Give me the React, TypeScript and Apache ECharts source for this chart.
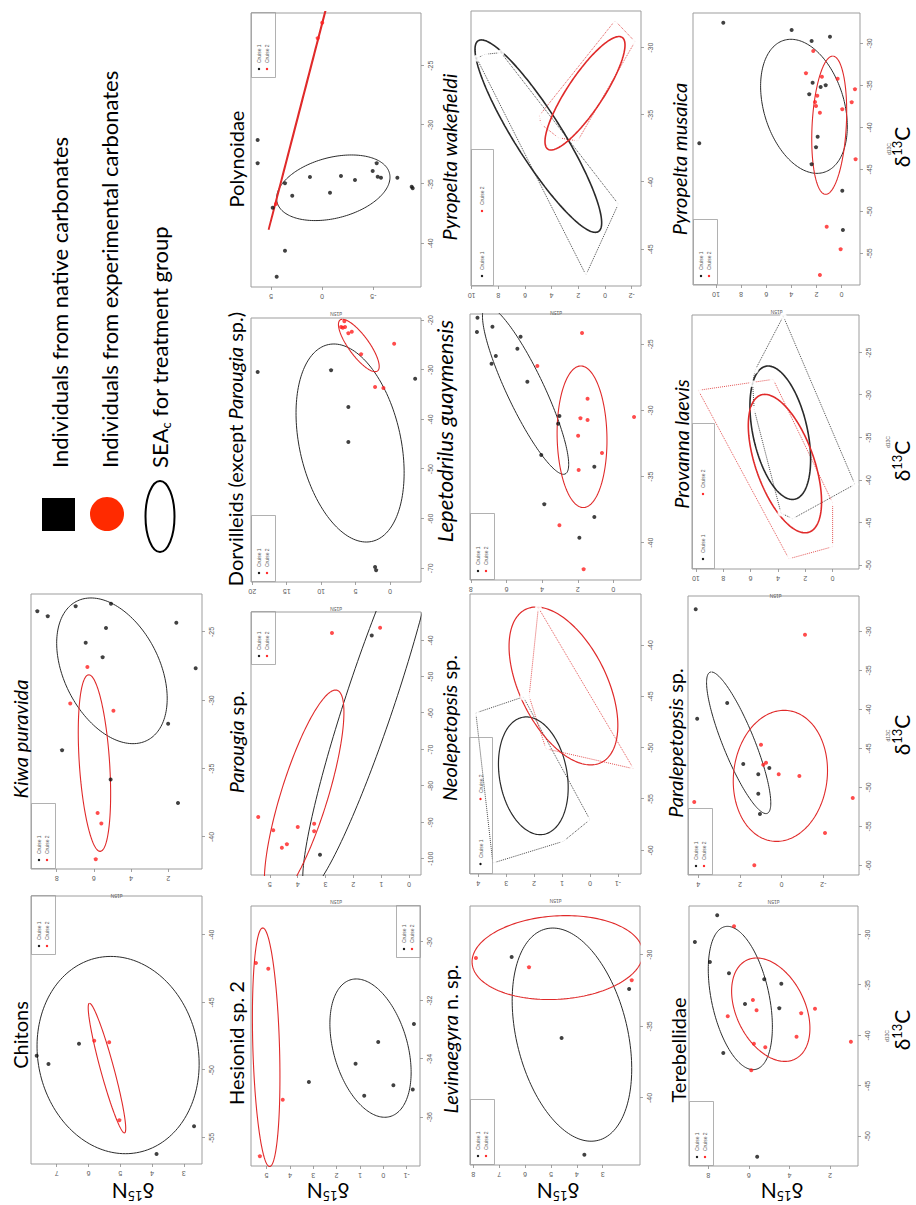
import React, { useEffect, useRef } from "react";
import * as echarts from "echarts";

type Pt = [number, number];

// SEA ellipse parameters: [centre d13C, centre d15N, half-range d13C, half-range d15N, correlation]

// ---------- Chitons ----------
const chitonsXT = [-55, -50, -45, -40];
const chitonsYT = [3, 4, 5, 6, 7];
const chitonsC1: Pt[] = [[-48.93, 7.63], [-49.54, 7.26], [-48.04, 6.3], [-54.14, 2.68], [-56.18, 3.86]];
const chitonsC2: Pt[] = [[-47.82, 5.82], [-47.94, 5.35], [-53.7, 5.03]];
const chitonsSea1 = [-48.88, 5.07, 7.28, 2.55, 0.09];
const chitonsSea2 = [-49.84, 5.42, 4.79, 0.59, 0.93];

// ---------- Kiwa puravida ----------
const kiwaXT = [-40, -35, -30, -25];
const kiwaYT = [2, 4, 6, 8];
const kiwaC1: Pt[] = [[-23.49, 9.04], [-23.85, 8.48], [-23.12, 6.98], [-22.93, 5.08], [-24.71, 5.35], [-25.78, 6.44], [-26.85, 5.53], [-24.32, 1.57], [-27.66, 0.53], [-31.71, 2.01], [-33.66, 7.71], [-35.8, 5.1], [-37.51, 1.48]];
const kiwaC2: Pt[] = [[-27.56, 6.35], [-30.24, 7.27], [-30.76, 4.95], [-38.24, 5.8], [-39.02, 5.6], [-41.63, 5.9]];
const kiwaSea1 = [-27.84, 5.03, 5.33, 2.97, 0.38];
const kiwaSea2 = [-34.59, 5.97, 6.46, 0.87, 0.35];

// ---------- Hesionid sp. 2 ----------
const hesXT = [-36, -34, -32, -30];
const hesYT = [-1, 0, 1, 2, 3, 4, 5];
const hesC1: Pt[] = [[-34.79, 3.19], [-34.17, 1.19], [-33.42, 0.22], [-35.26, 0.82], [-34.9, -0.43], [-32.8, -1.31], [-35.05, -1.26]];
const hesC2: Pt[] = [[-30.71, 5.46], [-30.91, 4.93], [-35.4, 4.31], [-37.34, 5.29]];
const hesSea1 = [-33.63, 0.55, 2.37, 1.74, 0.35];
const hesSea2 = [-33.6, 5.02, 4.09, 0.59, 0.25];

// ---------- Parougia sp. ----------
const parXT = [-100, -90, -80, -70, -60, -50, -40];
const parYT = [0, 1, 2, 3, 4, 5];
const parC1: Pt[] = [[-38.63, 1.34], [-98.9, 3.2]];
const parC2: Pt[] = [[-88.54, 5.42], [-92.2, 4.88], [-96.98, 4.57], [-96.04, 4.39], [-91.29, 4.0], [-37.99, 2.77], [-36.54, 1.04], [-90.38, 3.41], [-92.47, 3.41]];
const parSea1 = [-55.2, 1.34, 53.9, 2.48, -0.928];
const parSea2 = [-82.85, 3.77, 29.2, 1.43, -0.79];

// ---------- Dorvilleids ----------
const dorXT = [-70, -60, -50, -40, -30, -20];
const dorYT = [0, 5, 10, 15, 20];
const dorC1: Pt[] = [[-30.08, 8.56], [-37.48, 6.05], [-44.54, 6.05], [-31.77, -3.65], [-69.74, 2.17], [-70.4, 2.02], [-30.42, 19.22]];
const dorC2: Pt[] = [[-20.2, 6.63], [-21.35, 7.11], [-21.49, 6.86], [-21.35, 6.53], [-22.62, 6.05], [-22.3, 5.55], [-26.85, 4.2], [-24.72, -0.6], [-33.45, 2.17], [-33.65, 0.96]];
const dorSea1 = [-44.74, 5.8, 19.96, 7.85, 0.3];
const dorSea2 = [-25.08, 4.53, 5.28, 2.96, 0.8];

// ---------- Polynoidae ----------
const polXT = [-40, -35, -30, -25];
const polYT = [-5, 0, 5];
const polC1: Pt[] = [[-31.28, 6.3], [-33.24, 6.3], [-34.93, 3.63], [-35.98, 2.92], [-36.99, 4.83], [-40.62, 3.63], [-42.82, 4.44], [-34.4, 1.19], [-35.73, -0.77], [-34.32, -1.84], [-34.65, -3.21], [-33.89, -4.94], [-33.24, -5.33], [-34.37, -5.43], [-34.46, -5.75], [-34.46, -7.35], [-35.22, -8.75], [-35.35, -8.85]];
const polC2: Pt[] = [[-36.68, 4.51], [-22.69, 0.43], [-21.37, -0.01]];
const polSea1 = [-35.31, -1.09, 2.77, 5.54, -0.32];
const polSea2 = [-26.9, 1.64, 11.98, 3.6, -0.99999];

// ---------- Levinaegyra n. sp. ----------
const levXT = [-40, -35, -30];
const levYT = [3, 4, 5, 6, 7, 8];
const levC1: Pt[] = [[-30.16, 6.52], [-35.81, 4.59], [-43.96, 3.71], [-32.39, 1.98]];
const levC2: Pt[] = [[-30.23, 7.9], [-30.88, 5.85], [-31.79, 1.88]];
const levSea1 = [-35.58, 4.19, 7.44, 2.31, 0.32];
const levSea2 = [-30.2, 4.75, 2.93, 3.3, -0.1];

// ---------- Neolepetopsis sp. ----------
const neoXT = [-60, -55, -50, -45, -40];
const neoYT = [-1, 0, 1, 2, 3, 4];
const neoC1: Pt[] = [[-46.6, 4.09], [-50.67, 3.01], [-50.48, 1.89], [-50.8, 1.79], [-53.34, 1.04], [-57.89, 1.97], [-57.01, 0.0], [-59.12, 0.95], [-61.24, 3.48], [-45.04, 2.39]];
const neoC2: Pt[] = [[-36.33, 1.85], [-38.77, 1.69], [-44.98, 2.18], [-50.09, 1.58], [-52.04, -1.56]];
const neoHull1 = [0, 9, 6, 7, 8, 0];
const neoHull2 = [0, 2, 3, 4, 0];
const neoSea1 = [-52.73, 2.03, 5.74, 1.25, 0.2];
const neoSea2 = [-43.97, 0.95, 7.7, 1.95, 0.5];

// ---------- Lepetodrilus guaymensis ----------
const lepXT = [-40, -35, -30, -25];
const lepYT = [0, 2, 4, 6, 8];
const lepC1: Pt[] = [[-22.99, 7.63], [-24.07, 7.66], [-23.67, 6.79], [-24.43, 5.21], [-25.33, 5.39], [-25.88, 6.6], [-26.47, 6.84], [-27.83, 4.83], [-30.42, 3.03], [-31.0, 3.1], [-33.37, 4.05], [-34.25, 1.07], [-37.09, 3.88], [-38.05, 1.07], [-39.62, 1.91]];
const lepC2: Pt[] = [[-24.15, 1.76], [-26.64, 4.27], [-29.11, 1.45], [-30.59, 1.85], [-30.72, 1.45], [-31.91, 1.98], [-33.22, 0.64], [-34.5, 1.95], [-38.68, 3.03], [-42.01, 1.67], [-30.5, -1.16]];
const lepSea1 = [-28.47, 4.93, 6.36, 2.42, 0.88];
const lepSea2 = [-31.99, 1.76, 5.35, 1.4, 0.05];

// ---------- Pyropelta wakefieldi ----------
const pwaXT = [-45, -40, -35, -30];
const pwaYT = [-2, 0, 2, 4, 6, 8, 10];
const pwaC1: Pt[] = [[-30.79, 9.62], [-30.49, 9.0], [-30.37, 7.8], [-41.63, -1.0], [-46.91, 1.43], [-41.58, 1.63]];
const pwaC2: Pt[] = [[-35.06, 4.93], [-35.68, 4.8], [-36.7, 3.5], [-36.94, 2.05], [-34.21, 1.13], [-27.99, -0.75], [-29.55, -2.25]];
const pwaHull1 = [0, 1, 2, 3, 4, 0];
const pwaHull2 = [0, 5, 6, 3, 2, 1, 0];
const pwaSea1 = [-36.58, 5.0, 7.16, 4.75, 0.9];
const pwaSea2 = [-33.39, 1.5, 4.22, 3.0, -0.85];

// ---------- Terebellidae ----------
const terXT = [-50, -45, -40, -35, -30];
const terYT = [2, 4, 6, 8];
const terC1: Pt[] = [[-28.08, 7.56], [-30.72, 8.66], [-32.71, 7.92], [-33.83, 6.98], [-34.42, 5.24], [-34.86, 4.4], [-36.88, 6.19], [-37.3, 4.5], [-41.74, 7.26], [-52.02, 5.59]];
const terC2: Pt[] = [[-29.17, 6.73], [-36.48, 5.8], [-37.5, 5.62], [-38.1, 7.04], [-37.8, 3.42], [-37.34, 2.74], [-40.12, 3.65], [-40.81, 5.75], [-41.17, 5.19], [-43.45, 5.88], [-40.62, 0.97]];
const terSea1 = [-36.28, 6.42, 7.11, 1.58, 0.4];
const terSea2 = [-37.44, 4.92, 5.13, 1.93, 0.36];

// ---------- Paralepetopsis sp. ----------
const palXT = [-60, -55, -50, -45, -40, -35, -30];
const palYT = [-2, 0, 2, 4];
const palC1: Pt[] = [[-27.18, 4.12], [-41.21, 4.05], [-39.19, 2.61], [-47.01, 1.84], [-47.53, 0.59], [-48.33, 1.12], [-50.82, 1.12], [-53.42, 1.04]];
const palC2: Pt[] = [[-30.44, -1.12], [-44.54, 0.99], [-47.1, 0.88], [-46.85, 0.75], [-48.33, 0.14], [-48.55, -0.85], [-51.88, 4.19], [-51.37, -3.41], [-55.86, -2.08], [-60.0, 1.31]];
const palSea1 = [-44.29, 2.06, 9.08, 1.54, 0.85];
const palSea2 = [-48.53, 0.06, 8.4, 2.26, -0.08];

// ---------- Provanna laevis ----------
const proXT = [-50, -45, -40, -35, -30, -25];
const proYT = [-2, 0, 2, 4, 6, 8, 10];
const proC1: Pt[] = [[-20.7, 3.61], [-27.07, 5.68], [-28.65, 5.85], [-31.66, 5.74], [-31.74, 4.64], [-29.31, 2.15], [-36.65, 4.1], [-40.88, 3.86], [-40.21, 2.39], [-43.86, 3.78], [-44.53, 2.93], [-40.48, -1.63]];
const proC2: Pt[] = [[-29.42, 9.83], [-28.13, 4.35], [-29.31, 4.64], [-29.51, 4.46], [-32.56, 3.78], [-35.54, 3.49], [-40.6, 5.56], [-44.01, 1.71], [-42.65, 0.0], [-47.82, 0.0], [-46.18, 0.4], [-47.04, 0.8], [-49.24, 3.2]];
const proHull1 = [0, 1, 2, 3, 9, 10, 11, 0];
const proHull2 = [0, 1, 8, 9, 12, 0];
const proSea1 = [-34.41, 3.83, 7.85, 2.22, 0.4];
const proSea2 = [-38.04, 3.49, 8.14, 2.68, 0.55];

// ---------- Pyropelta musaica ----------
const pmuXT = [-55, -50, -45, -40, -35, -30];
const pmuYT = [0, 2, 4, 6, 8, 10];
const pmuC1: Pt[] = [[-27.55, 9.42], [-28.42, 3.98], [-29.73, 2.39], [-29.21, 0.93], [-34.69, 2.31], [-36.07, 2.58], [-35.2, 1.67], [-35.0, 1.27], [-41.12, 1.91], [-42.38, 2.04], [-41.9, 11.33], [-44.4, 2.39], [-47.55, -0.05], [-52.23, -0.1]];
const pmuC2: Pt[] = [[-30.92, 2.26], [-33.57, 2.84], [-33.98, 1.57], [-34.21, 0.32], [-35.48, -1.06], [-36.99, 2.12], [-37.46, 2.04], [-36.24, 1.94], [-37.02, -0.8], [-37.86, -0.05], [-38.26, 1.73], [-43.81, -1.11], [-51.83, 1.19], [-54.52, 0.08], [-57.58, 1.73]];
const pmuSea1 = [-37.5, 3.0, 7.98, 3.45, 0.3];
const pmuSea2 = [-39.75, 0.99, 8.23, 1.39, -0.2];

// Figure texts
const legendLines = ["Individuals from native carbonates", "Individuals from experimental carbonates"];
const cruiseNames = ["Cruise 1", "Cruise 2"];

// ---------- layout (landscape figure, 1205 x 916) ----------
interface Panel {
  title: string;
  tx: number;
  ty: number;
  tfs?: number;
  box: number[];
  xr: number[];
  yr: number[];
  xt: number[];
  yt: number[];
  c1: Pt[];
  c2: Pt[];
  e1: number[];
  e2: number[];
  h1?: number[];
  h2?: number[];
  open?: boolean;
  ew?: number;
  e2w?: number;
  xname?: boolean;
  yname?: boolean;
  leg: number[];
}

const panels: Panel[] = [
  { title: "{n|Chitons}", tx: 170, ty: 27, box: [41, 31, 268, 171], xr: [-56.92, -37.14], yr: [2.43, 7.81], xt: chitonsXT, yt: chitonsYT, c1: chitonsC1, c2: chitonsC2, e1: chitonsSea1, e2: chitonsSea2, leg: [250, 31, 59, 24, 0] },
  { title: "{i|Kiwa puravida}", tx: 466, ty: 27, box: [336, 31, 275, 171], xr: [-42.34, -22.22], yr: [0.19, 9.38], xt: kiwaXT, yt: kiwaYT, c1: kiwaC1, c2: kiwaC2, e1: kiwaSea1, e2: kiwaSea2, yname: true, leg: [336, 31, 65, 24, 0] },
  { title: "{n|Hesionid sp. 2}", tx: 162, ty: 243, box: [39, 251, 260, 169], xr: [-37.67, -28.76], yr: [-1.57, 5.67], xt: hesXT, yt: hesYT, c1: hesC1, c2: hesC2, e1: hesSea1, e2: hesSea2, leg: [247, 396, 52, 24, 0] },
  { title: "{i|Parougia}{n| sp.}", tx: 463, ty: 243, box: [330, 251, 263, 170], xr: [-104.48, -32.2], yr: [-0.43, 5.68], xt: parXT, yt: parYT, c1: parC1, c2: parC2, e1: parSea1, e2: parSea2, yname: true, leg: [540, 251, 53, 24, 0] },
  { title: "{n|Dorvilleids (except }{i|Parougia}{n| sp.)}", tx: 756, ty: 242, box: [623, 251, 264, 170], xr: [-72.76, -19.54], yr: [-4.5, 20.19], xt: dorXT, yt: dorYT, c1: dorC1, c2: dorC2, e1: dorSea1, e2: dorSea2, yname: true, leg: [623, 251, 66, 24, 0] },
  { title: "{n|Polynoidae}", tx: 1046, ty: 243, box: [918, 251, 274, 170], xr: [-43.69, -20.55], yr: [-9.66, 6.95], xt: polXT, yt: polYT, c1: polC1, c2: polC2, e1: polSea1, e2: polSea2, e2w: 1.8, yname: true, leg: [1127, 251, 65, 24, 0] },
  { title: "{i|Levinaegyra}{n| n. sp.}", tx: 166, ty: 457, box: [40, 470, 259, 170], xr: [-44.68, -26.6], yr: [1.56, 8.13], xt: levXT, yt: levYT, c1: levC1, c2: levC2, e1: levSea1, e2: levSea2, leg: [40, 470, 65, 24, 0] },
  { title: "{i|Neolepetopsis}{n| sp.}", tx: 477, ty: 456, box: [331, 470, 280, 171], xr: [-62.31, -35.0], yr: [-1.83, 4.3], xt: neoXT, yt: neoYT, c1: neoC1, c2: neoC2, e1: neoSea1, e2: neoSea2, h1: neoHull1, h2: neoHull2, open: true, ew: 1.2, yname: true, leg: [331, 469, 136, 23, 1] },
  { title: "{i|Lepetodrilus guaymensis}", tx: 774, ty: 452, tfs: 22, box: [625, 470, 266, 171], xr: [-42.82, -22.71], yr: [-1.55, 8.05], xt: lepXT, yt: lepYT, c1: lepC1, c2: lepC2, e1: lepSea1, e2: lepSea2, leg: [625, 470, 66, 24, 0] },
  { title: "{i|Pyropelta wakefieldi}", tx: 1048, ty: 456, box: [919, 471, 275, 170], xr: [-47.73, -27.27], yr: [-2.7, 10.05], xt: pwaXT, yt: pwaYT, c1: pwaC1, c2: pwaC2, e1: pwaSea1, e2: pwaSea2, h1: pwaHull1, h2: pwaHull2, open: true, ew: 1.6, yname: true, leg: [919, 471, 136, 22, 1] },
  { title: "{n|Terebellidae}", tx: 155, ty: 685, box: [39, 689, 260, 169], xr: [-52.95, -27.15], yr: [0.62, 8.95], xt: terXT, yt: terYT, c1: terC1, c2: terC2, e1: terSea1, e2: terSea2, xname: true, leg: [39, 689, 64, 24, 0] },
  { title: "{i|Paralepetopsis}{n| sp.}", tx: 462, ty: 682, box: [330, 688, 279, 171], xr: [-61.24, -25.47], yr: [-3.71, 4.49], xt: palXT, yt: palYT, c1: palC1, c2: palC2, e1: palSea1, e2: palSea2, xname: true, yname: true, leg: [330, 688, 66, 24, 0] },
  { title: "{i|Provanna laevis}", tx: 761, ty: 688, box: [636, 692, 254, 167], xr: [-50.44, -20.56], yr: [-1.93, 10.29], xt: proXT, yt: proYT, c1: proC1, c2: proC2, e1: proSea1, e2: proSea2, h1: proHull1, h2: proHull2, open: true, ew: 1.6, xname: true, yname: true, leg: [636, 692, 145, 22, 1] },
  { title: "{i|Pyropelta musaica}", tx: 1046, ty: 686, box: [920, 693, 272, 167], xr: [-58.77, -26.39], yr: [-1.46, 11.83], xt: pmuXT, yt: pmuYT, c1: pmuC1, c2: pmuC2, e1: pmuSea1, e2: pmuSea2, xname: true, yname: true, leg: [920, 693, 65, 24, 0] },
];

const d15NLabelY = [133, 328, 558, 782];
const d13CLabelX = [175, 470, 744, 1058];

const BOX = "#9d9d9d";
const TICK = "#8c8c8c";
const LAB = "#5c5c5c";
const BLACK = "#111111";
const RED = "#ff1f1f";
const TITLE_FONT = "Lato, 'Open Sans', sans-serif";
const AXIS_FONT = "'Liberation Sans', Arial, sans-serif";

function ellipsePoints(e: number[]): Pt[] {
  const [cx, cy, rx, ry, rho] = e;
  const s = Math.sqrt(Math.max(0, 1 - rho * rho));
  const pts: Pt[] = [];
  const n = 180;
  for (let k = 0; k <= n; k++) {
    const t = (2 * Math.PI * k) / n;
    pts.push([cx + rx * Math.cos(t), cy + ry * (rho * Math.cos(t) + s * Math.sin(t))]);
  }
  return pts;
}

function richStyles(fs: number) {
  return {
    n: { fontFamily: TITLE_FONT, fontSize: fs, fill: "#000" },
    i: { fontFamily: TITLE_FONT, fontSize: fs, fill: "#000", fontStyle: "italic" },
  };
}

function isoLabel(text: string) {
  return {
    text,
    align: "center",
    verticalAlign: "middle",
    textAlign: "center",
    textVerticalAlign: "middle",
    rich: {
      a: { fontFamily: TITLE_FONT, fontSize: 21, fill: "#000", lineHeight: 22 },
      s: { fontFamily: TITLE_FONT, fontSize: 13, fill: "#000", lineHeight: 14, verticalAlign: "top" },
    },
  };
}

function buildOption() {
  const grid: any[] = [];
  const xAxis: any[] = [];
  const yAxis: any[] = [];
  const series: any[] = [];
  const graphic: any[] = [];

  panels.forEach((p, i) => {
    grid.push({
      left: p.box[0],
      top: p.box[1],
      width: p.box[2],
      height: p.box[3],
      show: true,
      borderColor: BOX,
      borderWidth: 1,
      backgroundColor: "transparent",
    });
    xAxis.push({
      gridIndex: i,
      type: "value",
      min: p.xr[0],
      max: p.xr[1],
      axisLine: { show: false, onZero: false },
      splitLine: { show: false },
      axisTick: { show: true, length: 3, customValues: p.xt, lineStyle: { color: TICK, width: 0.8 } },
      axisLabel: { customValues: p.xt, fontSize: 7, color: LAB, margin: 6, fontFamily: AXIS_FONT, formatter: (v: number) => String(v) },
      name: p.xname ? "d13C" : "",
      nameLocation: "middle",
      nameGap: 26,
      nameTextStyle: { fontSize: 5, color: LAB, fontFamily: AXIS_FONT },
    });
    yAxis.push({
      gridIndex: i,
      type: "value",
      min: p.yr[0],
      max: p.yr[1],
      axisLine: { show: false, onZero: false },
      splitLine: { show: false },
      axisTick: { show: true, length: 3, customValues: p.yt, lineStyle: { color: TICK, width: 0.8 } },
      axisLabel: { customValues: p.yt, fontSize: 7, color: LAB, margin: 6, rotate: 90, fontFamily: AXIS_FONT, formatter: (v: number) => String(v) },
      name: p.yname ? "d15N" : "",
      nameLocation: "middle",
      nameGap: 24,
      nameTextStyle: { fontSize: 5, color: LAB, fontFamily: AXIS_FONT },
    });

    const common = { xAxisIndex: i, yAxisIndex: i, silent: true, animation: false };

    if (p.h1) {
      series.push({ ...common, type: "line", data: p.h1.map((k) => p.c1[k]), symbol: "none", clip: true, lineStyle: { color: "#4a4a4a", width: 1, type: "dotted" }, z: 2 });
    }
    if (p.h2) {
      series.push({ ...common, type: "line", data: p.h2.map((k) => p.c2[k]), symbol: "none", clip: true, lineStyle: { color: "#e25555", width: 1, type: "dotted" }, z: 2 });
    }

    series.push({ ...common, type: "line", data: ellipsePoints(p.e1), symbol: "none", clip: true, smooth: false, lineStyle: { color: "#2a2a2a", width: p.ew || 1 }, z: 3 });
    series.push({ ...common, type: "line", data: ellipsePoints(p.e2), symbol: "none", clip: true, smooth: false, lineStyle: { color: "#e02a2a", width: p.e2w || p.ew || 1.1 }, z: 3 });

    if (p.open) {
      series.push({ ...common, type: "scatter", data: p.c1, symbol: "emptyCircle", symbolSize: 5, clip: true, itemStyle: { color: "#ffffff", borderColor: "#6a6a6a", borderWidth: 0.8 }, z: 4 });
      series.push({ ...common, type: "scatter", data: p.c2, symbol: "emptyCircle", symbolSize: 5, clip: true, itemStyle: { color: "#ffffff", borderColor: "#e56666", borderWidth: 0.8 }, z: 4 });
    } else {
      series.push({ ...common, type: "scatter", data: p.c1, symbol: "circle", symbolSize: 4, clip: true, itemStyle: { color: BLACK }, z: 4 });
      series.push({ ...common, type: "scatter", data: p.c2, symbol: "circle", symbolSize: 4, clip: true, itemStyle: { color: RED }, z: 4 });
    }

    // panel title
    const fs = p.tfs || 20;
    graphic.push({
      type: "text",
      x: p.tx,
      y: p.ty - 0.35 * fs,
      silent: true,
      style: { text: p.title, rich: richStyles(fs), align: "center", verticalAlign: "middle", textAlign: "center", textVerticalAlign: "middle" },
    });

    // small cruise legend
    const [lx, ly, lw, lh, horiz] = p.leg;
    graphic.push({ type: "rect", silent: true, shape: { x: lx + 0.5, y: ly + 0.5, width: lw, height: lh }, style: { fill: "none", stroke: BOX, lineWidth: 0.8 }, z: 10 });
    const entries = horiz
      ? [[lx + 10, ly + lh / 2], [lx + 75, ly + lh / 2]]
      : [[lx + 9, ly + 8], [lx + 9, ly + 16]];
    entries.forEach(([ex, ey], k) => {
      graphic.push({ type: "circle", silent: true, shape: { cx: ex, cy: ey, r: 1.2 }, style: { fill: k === 0 ? BLACK : RED }, z: 10 });
      graphic.push({
        type: "text",
        silent: true,
        x: ex + 6,
        y: ey,
        style: { text: cruiseNames[k], fill: LAB, fontSize: 5, fontFamily: AXIS_FONT, align: "left", verticalAlign: "middle", textAlign: "left", textVerticalAlign: "middle" },
        z: 10,
      });
    });
  });

  // shared axis titles
  d15NLabelY.forEach((yy) => {
    graphic.push({ type: "text", silent: true, x: 14, y: yy, rotation: Math.PI / 2, style: isoLabel("{a|δ}{s|15}{a|N}") });
  });
  d13CLabelX.forEach((xx) => {
    graphic.push({ type: "text", silent: true, x: xx, y: 901, style: isoLabel("{a|δ}{s|13}{a|C}") });
  });

  // figure legend
  graphic.push({ type: "rect", silent: true, shape: { x: 674, y: 42, width: 33, height: 33 }, style: { fill: "#000" } });
  graphic.push({ type: "circle", silent: true, shape: { cx: 691, cy: 107, r: 17 }, style: { fill: "#ff2a00" } });
  graphic.push({ type: "ellipse", silent: true, shape: { cx: 688.5, cy: 160, rx: 35.5, ry: 14.5 }, style: { fill: "none", stroke: "#000", lineWidth: 2 } });
  legendLines.forEach((t, k) => {
    graphic.push({
      type: "text",
      silent: true,
      x: 737,
      y: 67 + 50 * k - 8,
      style: { text: t, fill: "#000", fontSize: 22, fontFamily: TITLE_FONT, align: "left", verticalAlign: "middle", textAlign: "left", textVerticalAlign: "middle" },
    });
  });
  graphic.push({
    type: "text",
    silent: true,
    x: 737,
    y: 167 - 8,
    style: {
      text: "{a|SEA}{s|c}{a| for treatment group}",
      align: "left",
      verticalAlign: "middle",
      textAlign: "left",
      textVerticalAlign: "middle",
      rich: {
        a: { fontFamily: TITLE_FONT, fontSize: 22, fill: "#000", lineHeight: 26 },
        s: { fontFamily: TITLE_FONT, fontSize: 13, fill: "#000", lineHeight: 10, verticalAlign: "bottom" },
      },
    },
  });

  return {
    animation: false,
    backgroundColor: "#ffffff",
    grid,
    xAxis,
    yAxis,
    series,
    graphic: { elements: graphic },
  };
}

export default function App() {
  const ref = useRef<HTMLDivElement>(null);
  useEffect(() => {
    if (!ref.current) return;
    const chart = echarts.init(ref.current, null, { renderer: "svg" });
    chart.setOption(buildOption() as any);
    return () => chart.dispose();
  }, []);
  return (
    <div style={{ position: "absolute", left: 0, top: 0, width: 916, height: 1205, overflow: "hidden", background: "#ffffff" }}>
      <div
        ref={ref}
        style={{
          position: "absolute",
          left: 0,
          top: 0,
          width: 1205,
          height: 916,
          transformOrigin: "0 0",
          transform: "translate(0px, 1205px) rotate(-90deg)",
        }}
      />
    </div>
  );
}
